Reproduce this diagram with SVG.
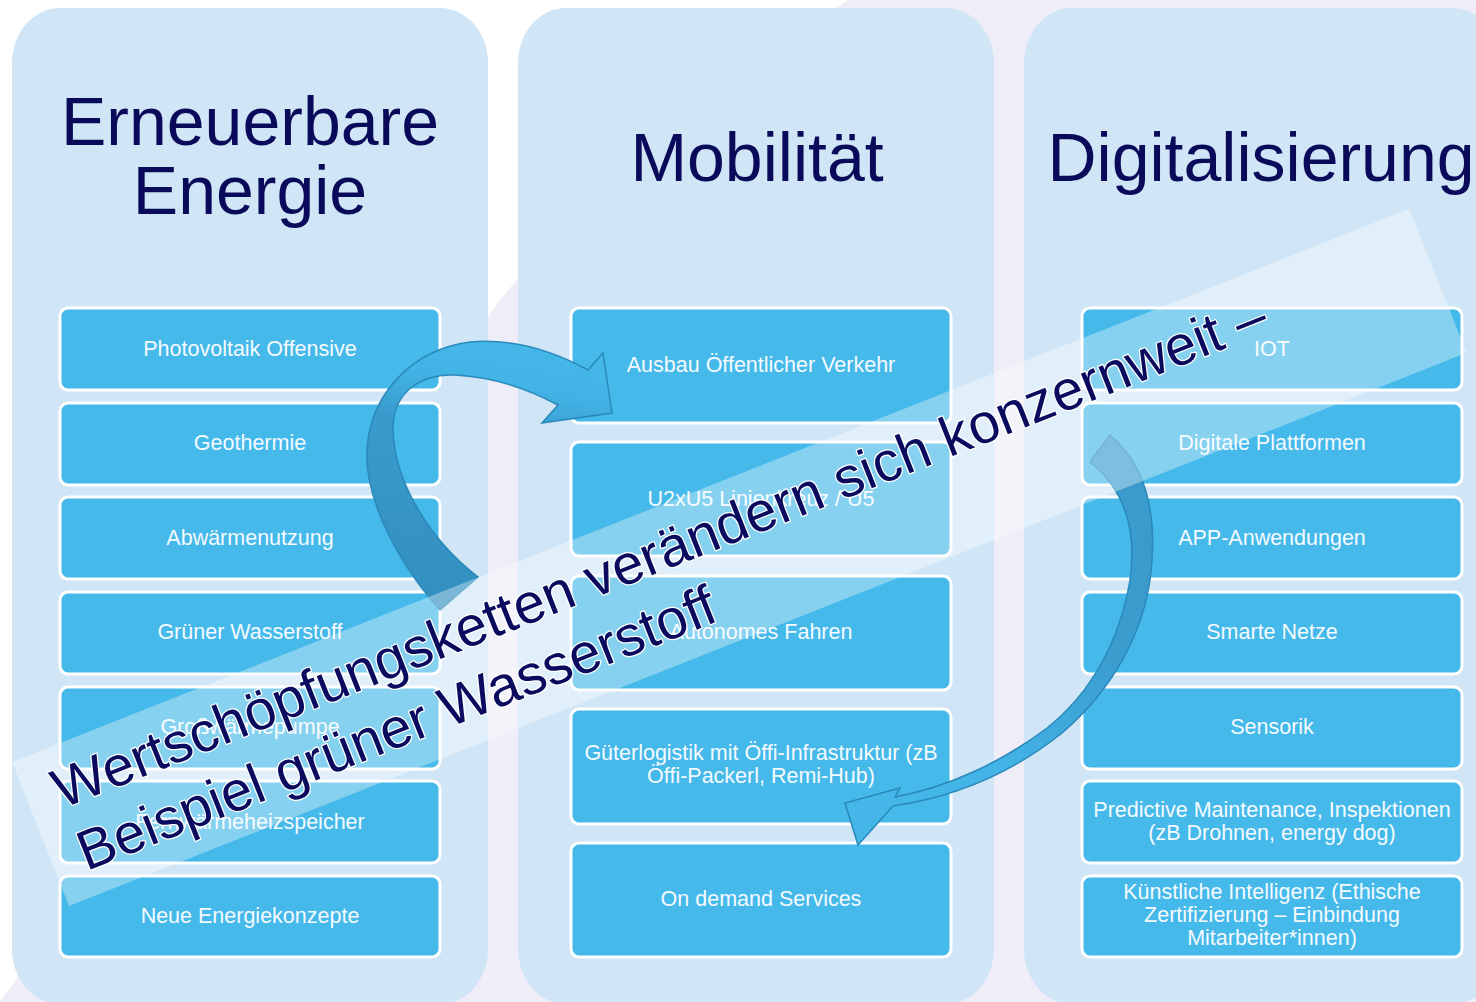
<svg xmlns="http://www.w3.org/2000/svg" width="1476" height="1002" viewBox="0 0 1476 1002">
<defs>
<style>
.panel{fill:#d0e6f6}
.title{font-family:"Liberation Sans",Arial,sans-serif;font-size:68px;fill:#0a0a5a;text-anchor:middle}
.box{fill:#45b9e9;stroke:#ffffff;stroke-width:3}
.lbl{font-family:"Liberation Sans",Arial,sans-serif;font-size:21.5px;fill:#f4faff;text-anchor:middle}
.arrow{stroke:#2a88ba;stroke-width:1.5;stroke-linejoin:miter}
.band{font-family:"Liberation Sans",Arial,sans-serif;font-size:56px;fill:#0a0a5e;stroke:#ffffff;stroke-width:2.5;paint-order:stroke;stroke-linejoin:round}
</style>
<linearGradient id="g1" gradientUnits="userSpaceOnUse" x1="430" y1="590" x2="470" y2="340">
<stop offset="0" stop-color="#3390c0"/>
<stop offset="0.65" stop-color="#399bcc"/>
<stop offset="0.85" stop-color="#42b3e5"/>
<stop offset="1" stop-color="#44b7e8"/>
</linearGradient>
<linearGradient id="g2" gradientUnits="userSpaceOnUse" x1="1140" y1="440" x2="900" y2="800">
<stop offset="0" stop-color="#3a9acb"/>
<stop offset="0.45" stop-color="#3a9dce"/>
<stop offset="0.8" stop-color="#42b3e5"/>
<stop offset="1" stop-color="#44b7e8"/>
</linearGradient>
</defs>
<rect width="1476" height="1002" fill="#efedf7"/>
<path d="M0,0 H848 C720,90 580,200 500,300 L0,1002 Z" fill="#ffffff"/>

<g id="col-erneuerbare">
<rect class="panel" x="12" y="8" width="476" height="996" rx="48" ry="55"/>
<text class="title" x="250" y="145">Erneuerbare</text>
<text class="title" x="250" y="214">Energie</text>
</g>
<g id="col-mobilitaet">
<rect class="panel" x="518" y="8" width="476" height="996" rx="48" ry="55"/>
<text class="title" x="757" y="181">Mobilität</text>
</g>
<g id="col-digitalisierung">
<rect class="panel" x="1024" y="8" width="476" height="996" rx="48" ry="55"/>
<text class="title" x="1261" y="181">Digitalisierung</text>
</g>

<g id="n-photovoltaik"><rect class="box" x="60" y="308" width="380" height="82" rx="8"/><text class="lbl" x="250" y="356">Photovoltaik Offensive</text></g>
<g id="n-geothermie"><rect class="box" x="60" y="403" width="380" height="82" rx="8"/><text class="lbl" x="250" y="450">Geothermie</text></g>
<g id="n-abwaerme"><rect class="box" x="60" y="497" width="380" height="82" rx="8"/><text class="lbl" x="250" y="545">Abwärmenutzung</text></g>
<g id="n-wasserstoff"><rect class="box" x="60" y="592" width="380" height="82" rx="8"/><text class="lbl" x="250" y="639">Grüner Wasserstoff</text></g>
<g id="n-waermepumpe"><rect class="box" x="60" y="687" width="380" height="82" rx="8"/><text class="lbl" x="250" y="734">Großwärmepumpe</text></g>
<g id="n-speicher"><rect class="box" x="60" y="781" width="380" height="82" rx="8"/><text class="lbl" x="250" y="829">Fernwärmeheizspeicher</text></g>
<g id="n-energiekonzepte"><rect class="box" x="60" y="876" width="380" height="81" rx="8"/><text class="lbl" x="250" y="923">Neue Energiekonzepte</text></g>

<g id="n-oev"><rect class="box" x="571" y="308" width="380" height="115" rx="8"/><text class="lbl" x="761" y="372">Ausbau Öffentlicher Verkehr</text></g>
<g id="n-u2xu5"><rect class="box" x="571" y="442" width="380" height="114" rx="8"/><text class="lbl" x="761" y="506">U2xU5 Linienkreuz / U5</text></g>
<g id="n-autonom"><rect class="box" x="571" y="576" width="380" height="114" rx="8"/><text class="lbl" x="761" y="639">Autonomes Fahren</text></g>
<g id="n-gueter"><rect class="box" x="571" y="709" width="380" height="115" rx="8"/><text class="lbl" x="761" y="760">Güterlogistik mit Öffi-Infrastruktur (zB</text><text class="lbl" x="761" y="783">Öffi-Packerl, Remi-Hub)</text></g>
<g id="n-ondemand"><rect class="box" x="571" y="843" width="380" height="114" rx="8"/><text class="lbl" x="761" y="906">On demand Services</text></g>

<g id="n-iot"><rect class="box" x="1082" y="308" width="380" height="82" rx="8"/><text class="lbl" x="1272" y="356">IOT</text></g>
<g id="n-plattformen"><rect class="box" x="1082" y="403" width="380" height="82" rx="8"/><text class="lbl" x="1272" y="450">Digitale Plattformen</text></g>
<g id="n-app"><rect class="box" x="1082" y="497" width="380" height="82" rx="8"/><text class="lbl" x="1272" y="545">APP-Anwendungen</text></g>
<g id="n-netze"><rect class="box" x="1082" y="592" width="380" height="82" rx="8"/><text class="lbl" x="1272" y="639">Smarte Netze</text></g>
<g id="n-sensorik"><rect class="box" x="1082" y="687" width="380" height="82" rx="8"/><text class="lbl" x="1272" y="734">Sensorik</text></g>
<g id="n-predictive"><rect class="box" x="1082" y="781" width="380" height="82" rx="8"/><text class="lbl" x="1272" y="817">Predictive Maintenance, Inspektionen</text><text class="lbl" x="1272" y="840">(zB Drohnen, energy dog)</text></g>
<g id="n-ki"><rect class="box" x="1082" y="876" width="380" height="81" rx="8"/><text class="lbl" x="1272" y="899">Künstliche Intelligenz (Ethische</text><text class="lbl" x="1272" y="922">Zertifizierung – Einbindung</text><text class="lbl" x="1272" y="945">Mitarbeiter*innen)</text></g>

<g id="connectors">
<path class="arrow" fill="url(#g1)" d="M440,610 C395,560 360,490 368,440 C374,395 410,350 470,342 C515,338 555,352 588,370 L603,353 L612,413 L542,423 L558,405 C530,390 495,377 455,375 C420,374 395,392 393,425 C392,480 430,540 478,577 Z"/>
<path class="arrow" fill="url(#g2)" d="M1090,462 L1110,435 C1140,460 1156,500 1152,560 C1148,630 1112,690 1062,733 C1012,773 955,797 893,806 L858,845 L845,803 L900,788 L895,797 C950,787 1005,760 1047,728 C1092,692 1120,640 1130,580 C1137,530 1125,490 1090,462 Z"/>
</g>

<g id="banner" transform="translate(12,762) rotate(-21.6)">
<rect x="0" y="0" width="1503" height="155" fill="#ffffff" fill-opacity="0.35"/>
<text class="band" x="29" y="62">Wertschöpfungsketten verändern sich konzernweit –</text>
<text class="band" x="29" y="129">Beispiel grüner Wasserstoff</text>
</g>
</svg>
